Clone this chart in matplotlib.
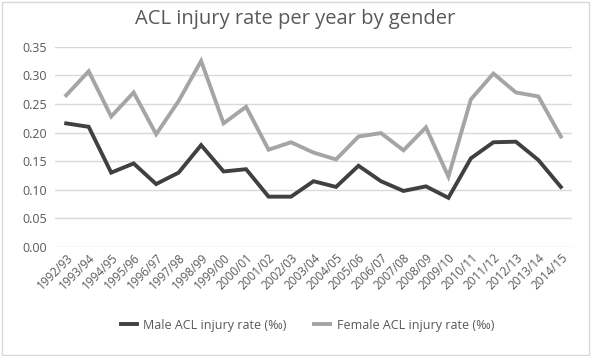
import matplotlib.pyplot as plt

seasons = ['1992/93', '1993/94', '1994/95', '1995/96', '1996/97', '1997/98', '1998/99',
           '1999/00', '2000/01', '2001/02', '2002/03', '2003/04', '2004/05', '2005/06',
           '2006/07', '2007/08', '2008/09', '2009/10', '2010/11', '2011/12', '2012/13',
           '2013/14', '2014/15']
male = [0.216, 0.210, 0.130, 0.146, 0.110, 0.130, 0.178, 0.132, 0.136, 0.088, 0.088, 0.115,
        0.105, 0.142, 0.115, 0.098, 0.106, 0.086, 0.155, 0.183, 0.184, 0.152, 0.105]
female = [0.265, 0.307, 0.228, 0.270, 0.197, 0.255, 0.325, 0.216, 0.245, 0.170, 0.183, 0.165,
          0.153, 0.193, 0.199, 0.169, 0.209, 0.123, 0.258, 0.303, 0.270, 0.263, 0.193]
yticks = [0.00, 0.05, 0.10, 0.15, 0.20, 0.25, 0.30, 0.35]

plt.rcParams['font.family'] = ['Open Sans', 'DejaVu Sans']
txt = '#595959'

fig = plt.figure(figsize=(5.91, 3.56), dpi=100)
ax = fig.add_axes([0.093, 0.306, 0.875, 0.563])
x = list(range(len(seasons)))
ax.plot(x, male, color='#404040', lw=2.8, label='Male ACL injury rate (‰)', solid_joinstyle='miter')
ax.plot(x, female, color='#a5a5a5', lw=2.8, label='Female ACL injury rate (‰)', solid_joinstyle='miter')

ax.set_xlim(-0.5, len(seasons) - 0.5)
ax.set_ylim(0, 0.35)
ax.set_yticks(yticks)
ax.set_yticklabels(['%.2f' % v for v in yticks], color=txt, fontsize=9)
ax.set_xticks(x)
ax.set_xticklabels(seasons, rotation=45, ha='right', rotation_mode='anchor', color=txt, fontsize=8.5)
ax.tick_params(length=0, pad=6)
ax.tick_params(axis='x', pad=3)
ax.grid(axis='y', color='#d9d9d9', lw=1)
ax.set_axisbelow(True)
for s in ax.spines.values():
    s.set_visible(False)

fig.text(0.5, 0.948, 'ACL injury rate per year by gender', ha='center', va='center',
         fontsize=14.5, color=txt)
fig.legend(loc='center', bbox_to_anchor=(0.52, 0.087), ncol=2, frameon=False,
           fontsize=9, labelcolor=txt, handlelength=1.3, handletextpad=0.5, columnspacing=2.2)

fig.patches.append(plt.Rectangle((0.003, 0.004), 0.994, 0.99, transform=fig.transFigure,
                                 fill=False, edgecolor='#d9d9d9', lw=1))
fig.savefig('out.png', dpi=100)
